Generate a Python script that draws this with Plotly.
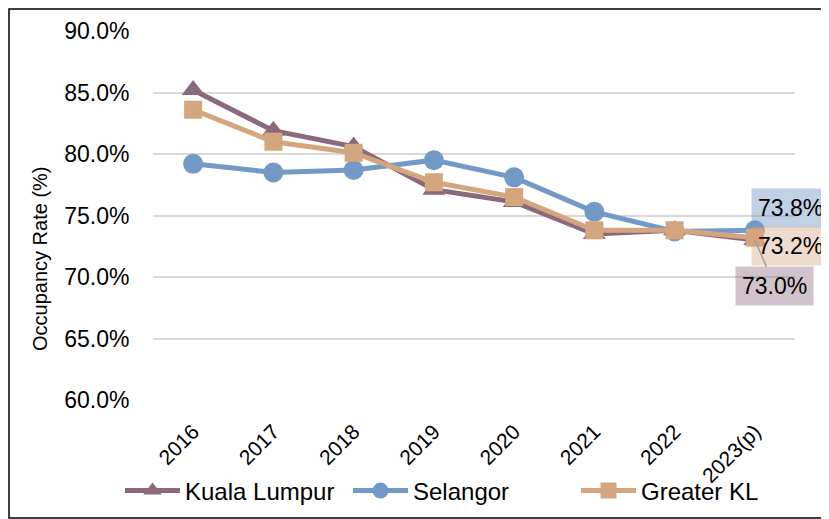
import plotly.graph_objects as go

years = ["2016", "2017", "2018", "2019", "2020", "2021", "2022", "2023(p)"]
kuala_lumpur = [85.2, 81.9, 80.6, 77.1, 76.1, 73.5, 73.8, 73.0]
selangor = [79.2, 78.5, 78.7, 79.5, 78.1, 75.3, 73.7, 73.8]
greater_kl = [83.6, 81.0, 80.1, 77.7, 76.5, 73.8, 73.8, 73.2]

col_kl = "#8b697d"
col_sel = "#7399c6"
col_gkl = "#d4a67e"

fig = go.Figure()
fig.add_trace(go.Scatter(
    x=years, y=kuala_lumpur, name="Kuala Lumpur", mode="lines+markers",
    line=dict(color=col_kl, width=5),
    marker=dict(symbol="triangle-up", size=20, color=col_kl)
))
fig.add_trace(go.Scatter(
    x=years, y=selangor, name="Selangor", mode="lines+markers",
    line=dict(color=col_sel, width=5),
    marker=dict(symbol="circle", size=20, color=col_sel)
))
fig.add_trace(go.Scatter(
    x=years, y=greater_kl, name="Greater KL", mode="lines+markers",
    line=dict(color=col_gkl, width=5),
    marker=dict(symbol="square", size=18, color=col_gkl)
))

# data labels on the last point
last = years[-1]
label_font = dict(family="Liberation Sans, Arial", size=23, color="black")
fig.add_annotation(x=last, y=selangor[-1], text=f"{selangor[-1]:.1f}%",
                   showarrow=False, xshift=36, yshift=22,
                   bgcolor="rgba(115,153,198,0.45)", borderpad=6, font=label_font)
fig.add_annotation(x=last, y=greater_kl[-1], text=f"{greater_kl[-1]:.1f}%",
                   showarrow=False, xshift=36, yshift=-8,
                   bgcolor="rgba(212,166,126,0.4)", borderpad=6, font=label_font)
fig.add_annotation(x=last, y=kuala_lumpur[-1], text=f"{kuala_lumpur[-1]:.1f}%",
                   showarrow=True, arrowhead=0, arrowcolor="#a0a0a0", arrowwidth=1.5,
                   ax=20, ay=46, standoff=0,
                   bgcolor="rgba(139,105,125,0.4)", borderpad=6, font=label_font)

# page has an 8px body margin
l, t, pw, ph = 145, 23, 642, 369

# y axis title, centred lower than the plot like the original
fig.add_annotation(xref="paper", yref="paper", x=(32 - l) / pw, y=(t + ph - 251) / ph,
                   text="Occupancy Rate (%)", textangle=-90, showarrow=False,
                   xanchor="center", yanchor="middle", font=dict(size=20))

# outer frame
fig.add_shape(type="rect", xref="paper", yref="paper",
              x0=(1 - l) / pw, x1=(820 - l) / pw,
              y0=(t + ph - 510) / ph, y1=(t + ph - 1) / ph,
              line=dict(color="black", width=1.5), layer="above")

fig.update_layout(
    width=829, height=519,
    margin=dict(l=l, r=829 - l - pw, t=t, b=519 - t - ph, autoexpand=False),
    paper_bgcolor="white", plot_bgcolor="white",
    font=dict(family="Liberation Sans, Arial", size=22, color="black"),
    showlegend=True,
    legend=dict(orientation="h", x=(112 - l) / pw, xanchor="left",
                y=(t + ph - 483) / ph, yanchor="middle",
                bgcolor="rgba(0,0,0,0)",
                font=dict(size=24), itemwidth=55, entrywidth=158, entrywidthmode="pixels",
                tracegroupgap=0),
    xaxis=dict(range=[-0.5, 7.5], tickangle=-45, showgrid=False, showline=False,
               ticks="outside", ticklen=10, tickcolor="rgba(0,0,0,0)",
               tickfont=dict(size=21), automargin=False),
    yaxis=dict(range=[60, 90], dtick=5, ticksuffix="%", tickformat=".1f",
               showgrid=True, gridcolor="#d9d9d9", gridwidth=1.5,
               zeroline=False, showline=False, ticks="outside", ticklen=18,
               tickcolor="rgba(0,0,0,0)", automargin=False,
               tickfont=dict(size=23)),
)

fig.write_html("out.html")
